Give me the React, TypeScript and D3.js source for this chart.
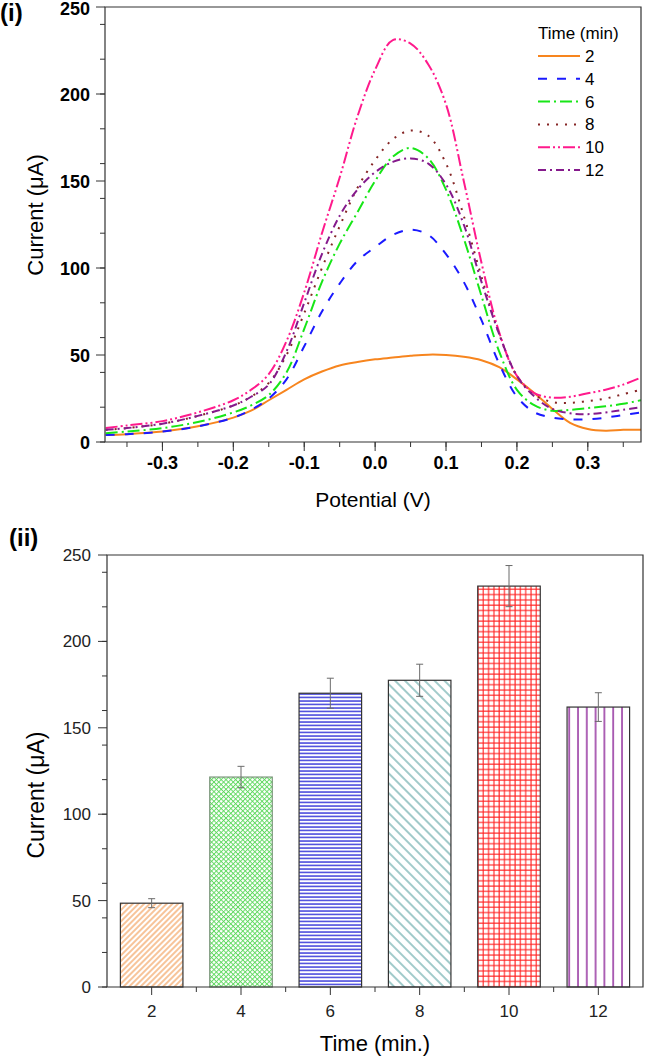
import React from 'react';
import * as d3 from 'd3';

// (i) differential pulse curves
const POTENTIAL = [-0.38, -0.35, -0.3, -0.25, -0.2, -0.175, -0.15, -0.125, -0.1, -0.075, -0.05, -0.025, 0, 0.025, 0.05, 0.075, 0.1, 0.125, 0.15, 0.175, 0.2, 0.225, 0.25, 0.275, 0.3, 0.325, 0.35, 0.375];
const I_2 = [4, 4.5, 6, 9, 14, 18, 24, 30, 36, 40.5, 44, 46, 47.5, 48.5, 49.5, 50.2, 50, 49, 47, 43, 36, 28, 19, 11, 7.5, 6.5, 7, 7];
const I_4 = [4, 4.5, 6, 9, 14, 18.5, 25, 36, 55, 75, 91, 104, 112, 119, 122, 119, 108, 92, 70, 45, 26, 17, 14, 13, 13, 14, 15.5, 17];
const I_6 = [5, 6, 8, 11.5, 17, 21, 27, 40, 65, 92, 114, 132, 150, 164, 169, 163, 145, 117, 84, 52, 30, 21, 18, 18.5, 19.5, 20.5, 22, 24];
const I_8 = [7, 8, 10.5, 15, 21, 26, 34, 50, 74, 100, 124, 146, 162, 174, 179, 176, 160, 130, 95, 62, 38, 27, 23, 22.5, 23.5, 25, 27.5, 30];
const I_10 = [8, 9.5, 12, 17, 24, 30, 39, 58, 86, 120, 152, 187, 214, 231, 229, 217, 194, 150, 103, 63, 38, 28, 25.5, 26, 28, 30, 33, 37];
const I_12 = [7, 8, 10.5, 15, 21, 26, 33, 52, 80, 108, 130, 145, 155, 161, 163, 160, 148, 125, 92, 62, 38, 26, 19, 16.5, 16, 17, 18.5, 20];
const X_TICK_LABELS = ['-0.3', '-0.2', '-0.1', '0.0', '0.1', '0.2', '0.3'];

// (ii) peak current vs deposition time
const TIMES = ['2', '4', '6', '8', '10', '12'];
const PEAK_CURRENT = [48.5, 121.5, 170, 177.5, 232, 162];
const PEAK_ERROR = [2.6, 6.2, 8.7, 9.3, 11.9, 8.3];

const curves = [
  { name: '2', values: I_2, color: '#f7851e', dash: null },
  { name: '4', values: I_4, color: '#1a1aff', dash: '9,10' },
  { name: '6', values: I_6, color: '#17e617', dash: '12,4,2,4' },
  { name: '8', values: I_8, color: '#852525', dash: '2,7' },
  { name: '10', values: I_10, color: '#ff1a8c', dash: '12,3,2,3,2,3' },
  { name: '12', values: I_12, color: '#851a8c', dash: '8,4,2,4' },
];

const font = '"Liberation Sans", Arial, sans-serif';

const App = () => {
  // ---- top panel ----
  const x1 = d3.scaleLinear().domain([-0.381, 0.375]).range([105, 641]);
  const y1 = d3.scaleLinear().domain([0, 250]).range([442, 7]);
  const line = d3.line<number>()
    .x((d, i) => x1(POTENTIAL[i]))
    .y(d => y1(d))
    .curve(d3.curveCatmullRom.alpha(0.5));
  const xMajor = x1.ticks(8);
  const xMinor = x1.ticks(15);
  const yMajor1 = y1.ticks(5);
  const yMinor1 = y1.ticks(10);

  // ---- bottom panel ----
  const x2 = d3.scaleBand().domain(TIMES).range([107, 643]);
  const y2 = d3.scaleLinear().domain([0, 250]).range([987, 555]);
  const barW = x2.bandwidth() * 0.7;
  const yMajor2 = y2.ticks(5);
  const yMinor2 = y2.ticks(10);
  const fills = ['url(#p2)', 'url(#p4)', 'url(#p6)', 'url(#p8)', 'url(#p10)', 'url(#p12)'];
  const outlines = ['#333', '#7a957a', '#333', '#333', '#333', '#333'];

  return (
    <svg width={645} height={1056} style={{ position: 'absolute', left: 0, top: 0, background: '#fff' }} fontFamily={font}>
      <defs>
        <pattern id="p2" width={4} height={4} patternUnits="userSpaceOnUse" patternTransform="rotate(45)">
          <rect width={4} height={4} fill="#fff" />
          <line x1={1} y1={0} x2={1} y2={4} stroke="#f08a35" strokeWidth={1} />
        </pattern>
        <pattern id="p4" width={3.4} height={3.4} patternUnits="userSpaceOnUse" patternTransform="rotate(45)">
          <rect width={3.4} height={3.4} fill="#fff" />
          <line x1={0.5} y1={0} x2={0.5} y2={3.4} stroke="#5ad85a" strokeWidth={0.9} />
          <line x1={0} y1={0.5} x2={3.4} y2={0.5} stroke="#5ad85a" strokeWidth={0.9} />
        </pattern>
        <pattern id="p6" width={10} height={3.5} patternUnits="userSpaceOnUse">
          <rect width={10} height={3.5} fill="#fff" />
          <line x1={0} y1={1} x2={10} y2={1} stroke="#2424d6" strokeWidth={1.3} />
        </pattern>
        <pattern id="p8" width={7} height={7} patternUnits="userSpaceOnUse" patternTransform="rotate(-45)">
          <rect width={7} height={7} fill="#fff" />
          <line x1={1} y1={0} x2={1} y2={7} stroke="#2e8a8a" strokeWidth={0.9} />
        </pattern>
        <pattern id="p10" width={5.3} height={5.3} patternUnits="userSpaceOnUse">
          <rect width={5.3} height={5.3} fill="#fff" />
          <line x1={1} y1={0} x2={1} y2={5.3} stroke="#ff1f1f" strokeWidth={1.1} />
          <line x1={0} y1={1} x2={5.3} y2={1} stroke="#ff1f1f" strokeWidth={1.1} />
        </pattern>
        <pattern id="p12" width={8.8} height={10} patternUnits="userSpaceOnUse" x={4}>
          <rect width={8.8} height={10} fill="#fff" />
          <line x1={2} y1={0} x2={2} y2={10} stroke="#93309e" strokeWidth={1.5} />
        </pattern>
        <clipPath id="clip1">
          <rect x={105} y={7} width={536} height={435} />
        </clipPath>
      </defs>

      {/* ===== (i) ===== */}
      <text x={0} y={21} fontSize={24} fontWeight="bold">(i)</text>
      <g clipPath="url(#clip1)">
        {curves.map(c => (
          <path key={c.name} d={line(c.values) || ''} fill="none" stroke={c.color} strokeWidth={2}
            strokeDasharray={c.dash || undefined} />
        ))}
      </g>
      <path d={`M105,7H641V442H105Z`} fill="none" stroke="#333" strokeWidth={1.2} />
      {xMinor.map(t => (
        <line key={'xm' + t} x1={x1(t)} x2={x1(t)} y1={442} y2={447} stroke="#333" />
      ))}
      {xMajor.map((t, i) => (
        <g key={'xt' + t}>
          <line x1={x1(t)} x2={x1(t)} y1={442} y2={451} stroke="#333" />
          <text x={x1(t)} y={469} fontSize={18} fontWeight="bold" textAnchor="middle">{X_TICK_LABELS[i]}</text>
        </g>
      ))}
      {yMinor1.map(t => (
        <line key={'ym' + t} x1={100} x2={105} y1={y1(t)} y2={y1(t)} stroke="#333" />
      ))}
      {yMajor1.map(t => (
        <g key={'yt' + t}>
          <line x1={96} x2={105} y1={y1(t)} y2={y1(t)} stroke="#333" />
          <text x={90} y={Math.max(y1(t) + 6.5, 15)} fontSize={18} fontWeight="bold" textAnchor="end">{t}</text>
        </g>
      ))}
      <text x={373} y={507} fontSize={21} textAnchor="middle">Potential (V)</text>
      <text transform="translate(43,215) rotate(-90)" fontSize={22} textAnchor="middle">Current (μA)</text>

      {/* legend */}
      <text x={538} y={39} fontSize={17}>Time (min)</text>
      {curves.map((c, i) => (
        <g key={'lg' + c.name} transform={`translate(538,${56 + i * 22.8})`}>
          <line x1={0} x2={42} y1={0} y2={0} stroke={c.color} strokeWidth={2} strokeDasharray={c.dash || undefined} />
          <text x={47} y={6} fontSize={17}>{c.name}</text>
        </g>
      ))}

      {/* ===== (ii) ===== */}
      <text x={9} y={546} fontSize={24} fontWeight="bold">(ii)</text>
      {TIMES.map((t, i) => {
        const cx = (x2(t) as number) + x2.bandwidth() / 2;
        return (
          <g key={'bar' + t}>
            <rect x={cx - barW / 2} y={y2(PEAK_CURRENT[i])} width={barW} height={y2(0) - y2(PEAK_CURRENT[i])}
              fill={fills[i]} stroke={outlines[i]} strokeWidth={1.2} />
          </g>
        );
      })}
      {TIMES.map((t, i) => {
        const cx = (x2(t) as number) + x2.bandwidth() / 2;
        const hi = y2(PEAK_CURRENT[i] + PEAK_ERROR[i]);
        const lo = y2(PEAK_CURRENT[i] - PEAK_ERROR[i]);
        return (
          <g key={'err' + t} stroke="#6b6b6b" strokeWidth={1}>
            <line x1={cx} x2={cx} y1={hi} y2={lo} />
            <line x1={cx - 3.5} x2={cx + 3.5} y1={hi} y2={hi} />
            <line x1={cx - 3.5} x2={cx + 3.5} y1={lo} y2={lo} />
          </g>
        );
      })}
      <path d={`M107,555H643V987H107Z`} fill="none" stroke="#333" strokeWidth={1.2} />
      {TIMES.map((t, i) => {
        const left = x2(t) as number;
        const cx = left + x2.bandwidth() / 2;
        return (
          <g key={'xt2' + t}>
            {i > 0 && <line x1={left} x2={left} y1={987} y2={992} stroke="#333" />}
            <line x1={cx} x2={cx} y1={987} y2={995} stroke="#333" />
            <text x={cx} y={1017} fontSize={17} textAnchor="middle" fill="#222">{t}</text>
          </g>
        );
      })}
      {yMinor2.map(t => (
        <line key={'ym2' + t} x1={102} x2={107} y1={y2(t)} y2={y2(t)} stroke="#333" />
      ))}
      {yMajor2.map(t => (
        <g key={'yt2' + t}>
          <line x1={98} x2={107} y1={y2(t)} y2={y2(t)} stroke="#333" />
          <text x={91} y={y2(t) + 6} fontSize={17} textAnchor="end" fill="#222">{t}</text>
        </g>
      ))}
      <text x={375} y={1051} fontSize={22} textAnchor="middle">Time (min.)</text>
      <text transform="translate(44,795) rotate(-90)" fontSize={23} textAnchor="middle">Current (μA)</text>
    </svg>
  );
};

export default App;
